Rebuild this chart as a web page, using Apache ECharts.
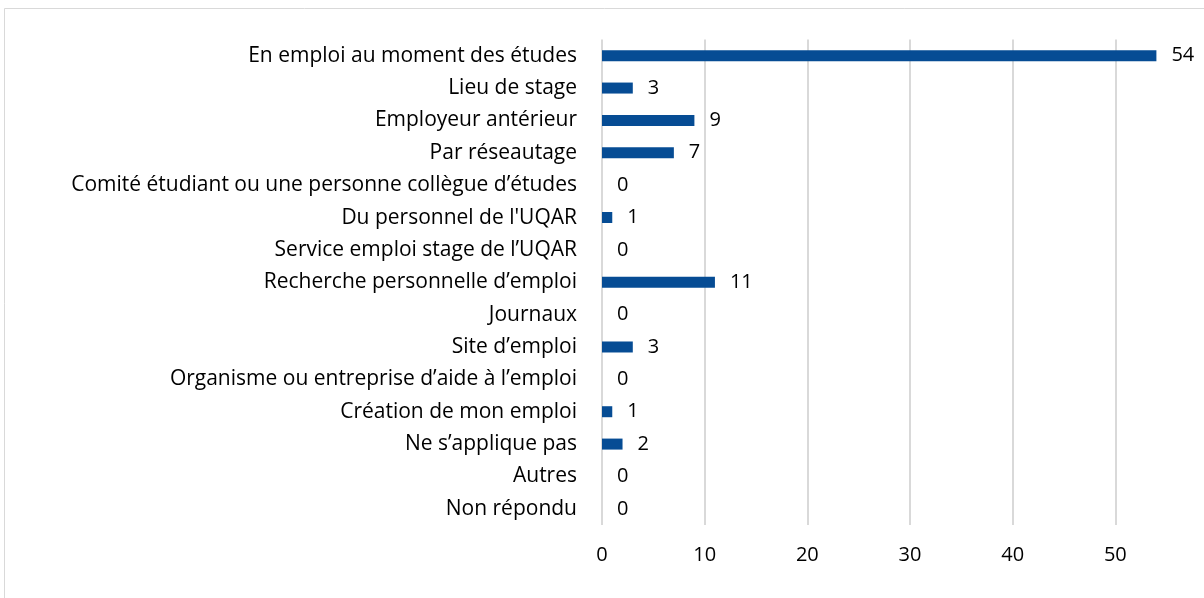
<!DOCTYPE html>
<html>
<head>
<meta charset="utf-8">
<script src="https://cdn.jsdelivr.net/npm/echarts@6/dist/echarts.min.js"></script>
<style>
  html, body { margin: 0; padding: 0; background: #fff; }
  #chart { width: 1204px; height: 598px; }
</style>
</head>
<body>
<div id="chart"></div>
<script>
// catégories (du haut vers le bas)
var categories = [
  "En emploi au moment des études",
  "Lieu de stage",
  "Employeur antérieur",
  "Par réseautage",
  "Comité étudiant ou une personne collègue d’études",
  "Du personnel de l'UQAR",
  "Service emploi stage de l’UQAR",
  "Recherche personnelle d’emploi",
  "Journaux",
  "Site d’emploi",
  "Organisme ou entreprise d’aide à l’emploi",
  "Création de mon emploi",
  "Ne s’applique pas",
  "Autres",
  "Non répondu"
];
var values = [54, 3, 9, 7, 0, 1, 0, 11, 0, 3, 0, 1, 2, 0, 0];
var xTicks = [0, 10, 20, 30, 40, 50, 60];

var font = "'Open Sans', sans-serif";
var barColor = "#064C94";

var chart = echarts.init(document.getElementById("chart"));
var option = {
  animation: false,
  graphic: [
    {
      type: "rect",
      shape: { x: 4.5, y: 8.5, width: 1220, height: 620 },
      style: { fill: "none", stroke: "#D9D9D9", lineWidth: 1 },
      silent: true
    }
  ],
  grid: {
    left: 602,
    right: -14,
    top: 39.5,
    bottom: 73,
    outerBoundsMode: "none"
  },
  xAxis: {
    type: "value",
    min: xTicks[0],
    max: xTicks[xTicks.length - 1],
    interval: 10,
    axisLine: { show: false },
    axisTick: { show: false },
    splitLine: { show: true, lineStyle: { color: "#D9D9D9", width: 2 } },
    axisLabel: {
      color: "#000",
      fontSize: 20,
      fontFamily: font,
      margin: 20
    }
  },
  yAxis: {
    type: "category",
    inverse: true,
    data: categories,
    axisLine: { show: false },
    axisTick: { show: false },
    axisLabel: {
      color: "#000",
      fontSize: 21,
      fontFamily: font,
      margin: 25
    }
  },
  series: [
    {
      type: "bar",
      data: values,
      barWidth: 11,
      itemStyle: { color: barColor },
      label: {
        show: true,
        position: "right",
        distance: 15,
        color: "#000",
        fontSize: 20,
        fontFamily: font
      }
    }
  ]
};
chart.setOption(option);
</script>
</body>
</html>
